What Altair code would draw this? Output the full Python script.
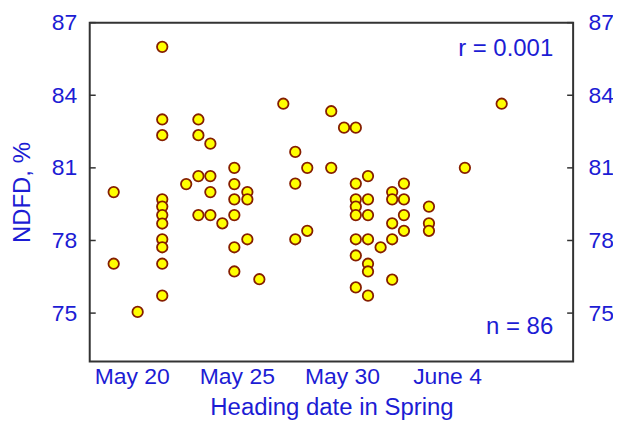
import altair as alt
import pandas as pd

# Heading date expressed as day of May (June 4 = 35)
heading_day = [
    19.14, 19.14,
    20.28,
    21.45, 21.45, 21.45, 21.45, 21.45, 21.45, 21.45, 21.45, 21.45, 21.45, 21.45,
    22.59,
    23.17, 23.17, 23.17, 23.17,
    23.74, 23.74, 23.74, 23.74,
    24.31,
    24.88, 24.88, 24.88, 24.88, 24.88, 24.88,
    25.50, 25.50, 25.50,
    26.07,
    27.21,
    27.78, 27.78, 27.78,
    28.35, 28.35,
    29.49, 29.49,
    30.10,
    30.66, 30.66, 30.66, 30.66, 30.66, 30.66, 30.66, 30.66,
    31.24, 31.24, 31.24, 31.24, 31.24, 31.24, 31.24,
    31.84,
    32.39, 32.39, 32.39, 32.39, 32.39,
    32.95, 32.95, 32.95, 32.95,
    34.14, 34.14, 34.14,
    35.85,
    37.60,
]
ndfd = [
    80.0, 77.04,
    75.05,
    86.0, 83.0, 82.35, 79.7, 79.4, 79.05, 78.7, 78.05, 77.72, 77.04, 75.72,
    80.33,
    83.0, 82.35, 80.66, 79.05,
    82.0, 80.66, 80.0, 79.05,
    78.71,
    81.0, 80.33, 79.7, 79.05, 77.72, 76.72,
    80.0, 79.7, 78.05,
    76.4,
    83.65,
    81.66, 80.35, 78.05,
    81.0, 78.4,
    83.34, 81.0,
    82.66,
    82.66, 80.35, 79.7, 79.4, 79.05, 78.05, 77.38, 76.06,
    80.66, 79.7, 79.05, 78.05, 77.04, 76.72, 75.72,
    77.72,
    80.0, 79.7, 78.71, 78.05, 76.38,
    80.35, 79.7, 79.05, 78.4,
    79.4, 78.71, 78.4,
    81.0,
    83.65,
]
x_ticks = [20, 25, 30, 35]
y_ticks = [75, 78, 81, 84, 87]
r_label = "r = 0.001"
n_label = "n = 86"

df = pd.DataFrame({"day": heading_day, "ndfd": ndfd})
tick_df = pd.DataFrame({"tick": y_ticks})

BLUE = "#1c1cd4"
FONT = "Liberation Sans"
W, H = 485, 340

xscale = alt.Scale(domain=[18, 41], nice=False, zero=False)
yscale = alt.Scale(domain=[73, 87], nice=False, zero=False)

xaxis = alt.Axis(
    values=x_ticks,
    labelExpr="datum.value == 35 ? 'June 4' : 'May ' + datum.value",
    title="Heading date in Spring",
    ticks=False, tickSize=0, domain=False, grid=False,
    labelPadding=4, titlePadding=7,
)

points = alt.Chart(df).mark_point(
    filled=True, shape="circle", size=110, fill="#ffff00",
    stroke="#851e00", strokeWidth=1.8, opacity=1,
).encode(
    x=alt.X("day:Q", scale=xscale, axis=xaxis),
    y=alt.Y("ndfd:Q", scale=yscale, axis=alt.Axis(
        orient="left", values=y_ticks, title="NDFD, %", grid=False,
        domain=False, ticks=False, labelPadding=13, titlePadding=17,
    )),
)

right = alt.Chart(df).mark_point(opacity=0).encode(
    y=alt.Y("ndfd:Q", scale=yscale, axis=alt.Axis(
        orient="right", values=y_ticks, title=None, grid=False,
        domain=False, ticks=False, labelPadding=15,
    )),
)

# inward tick marks on both sides of the frame
left_ticks = alt.Chart(tick_df).mark_rule(color="#333333", strokeWidth=1.5).encode(
    x=alt.value(0), x2=alt.value(6), y=alt.Y("tick:Q", scale=yscale, axis=None)
)
right_ticks = alt.Chart(tick_df).mark_rule(color="#333333", strokeWidth=1.5).encode(
    x=alt.value(W - 6), x2=alt.value(W), y=alt.Y("tick:Q", scale=yscale, axis=None)
)

ann = pd.DataFrame({"label": [r_label, n_label]})
r_text = alt.Chart(ann.iloc[[0]]).mark_text(
    align="right", baseline="middle", fontSize=24, font=FONT, color=BLUE,
).encode(x=alt.value(W - 20), y=alt.value(26), text="label:N")
n_text = alt.Chart(ann.iloc[[1]]).mark_text(
    align="right", baseline="middle", fontSize=24, font=FONT, color=BLUE,
).encode(x=alt.value(W - 20), y=alt.value(305), text="label:N")

chart = alt.layer(points, right, left_ticks, right_ticks, r_text, n_text).resolve_axis(
    y="independent"
).properties(
    width=W, height=H,
    autosize=alt.AutoSizeParams(type="none"),
    padding={"left": 82, "top": 14, "right": 40, "bottom": 58},
).configure_view(
    stroke="#333333", strokeWidth=2,
).configure_axis(
    labelFont=FONT, titleFont=FONT, labelFontSize=23, titleFontSize=24,
    labelColor=BLUE, titleColor=BLUE,
    titleFontWeight="normal",
)

chart.save("out.html", embed_options={"renderer": "svg", "actions": False})
